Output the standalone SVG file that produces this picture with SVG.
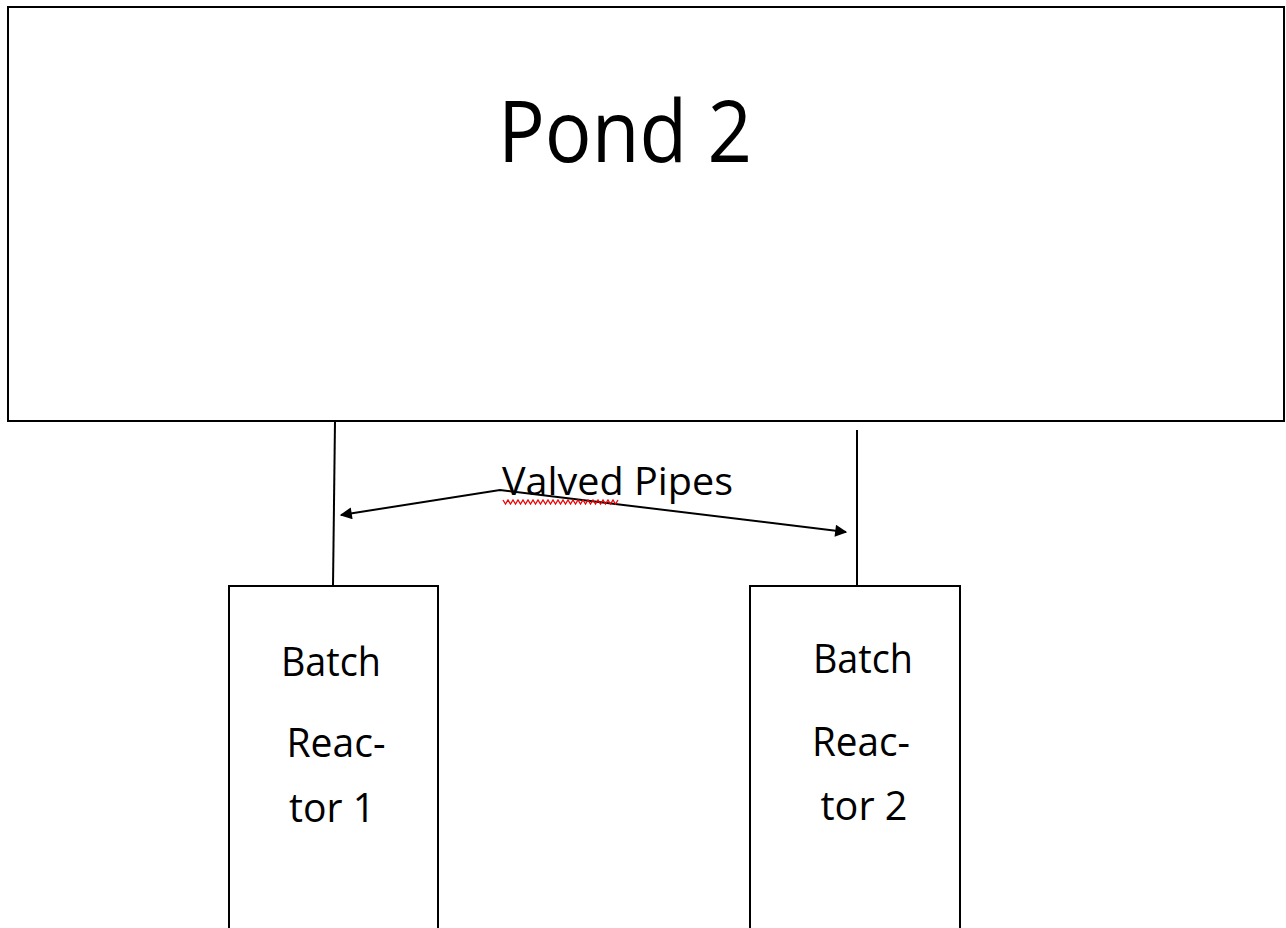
<svg xmlns="http://www.w3.org/2000/svg" width="1286" height="928" viewBox="0 0 1286 928">
<defs>
<style>
.box{fill:#fff;stroke:#000;stroke-width:2}
.pipe{fill:none;stroke:#000;stroke-width:2}
.t{font-family:"Open Sans","Noto Sans","Liberation Sans",sans-serif;fill:#000}
.lbl{font-size:40px}
</style>
<marker id="ah2" viewBox="0 0 10 10" refX="9" refY="5" markerWidth="15" markerHeight="12" markerUnits="userSpaceOnUse" orient="auto-start-reverse">
<path d="M0,0 L10,5 L0,10 z" fill="#000"/>
</marker>
</defs>
<rect width="1286" height="928" fill="#fff"/>
<g id="pond2">
<rect class="box" x="8" y="7" width="1276" height="414"/>
<text class="t" x="625" y="162" font-size="86" text-anchor="middle" textLength="254" lengthAdjust="spacingAndGlyphs">Pond 2</text>
</g>
<g id="reactor1">
<rect class="box" x="229" y="586" width="209" height="350"/>
<text class="t lbl" x="331" y="676" text-anchor="middle" textLength="100" lengthAdjust="spacingAndGlyphs">Batch</text>
<text class="t lbl" x="336" y="757" text-anchor="middle" textLength="99" lengthAdjust="spacingAndGlyphs">Reac-</text>
<text class="t lbl" x="332" y="822" text-anchor="middle" textLength="86" lengthAdjust="spacingAndGlyphs">tor 1</text>
</g>
<g id="reactor2">
<rect class="box" x="750" y="586" width="210" height="350"/>
<text class="t lbl" x="863" y="673" text-anchor="middle" textLength="100" lengthAdjust="spacingAndGlyphs">Batch</text>
<text class="t lbl" x="861" y="756" text-anchor="middle" textLength="98" lengthAdjust="spacingAndGlyphs">Reac-</text>
<text class="t lbl" x="864" y="820" text-anchor="middle" textLength="87" lengthAdjust="spacingAndGlyphs">tor 2</text>
</g>
<g id="connectors">
<line class="pipe" x1="335" y1="421" x2="333" y2="586"/>
<line class="pipe" x1="857" y1="430" x2="857" y2="586"/>
<polyline class="pipe" points="341,515 500,490 846,532" marker-start="url(#ah2)" marker-end="url(#ah2)"/>
</g>
<g id="label-valved-pipes">
<text class="t" x="502" y="495" font-size="39" textLength="231" lengthAdjust="spacingAndGlyphs">Valved Pipes</text>
<polyline fill="none" stroke="#e00" stroke-width="1.3" points="503,500 505.5,504 508,500 510.5,504 513,500 515.5,504 518,500 520.5,504 523,500 525.5,504 528,500 530.5,504 533,500 535.5,504 538,500 540.5,504 543,500 545.5,504 548,500 550.5,504 553,500 555.5,504 558,500 560.5,504 563,500 565.5,504 568,500 570.5,504 573,500 575.5,504 578,500 580.5,504 583,500 585.5,504 588,500 590.5,504 593,500 595.5,504 598,500 600.5,504 603,500 605.5,504 608,500 610.5,504 613,500 615.5,504 618,500"/>
</g>
</svg>
